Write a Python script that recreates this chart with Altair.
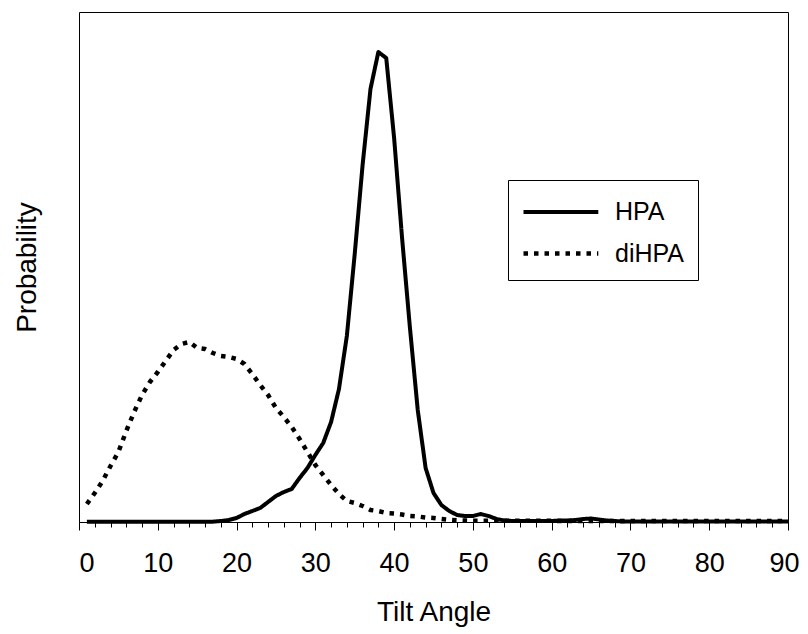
import altair as alt
import pandas as pd

angles = list(range(1, 91))

hpa = [0.3] * 17 + [
    1, 2, 4, 8, 11, 14, 20, 26, 30, 33,          # 18-27
    44, 54, 67, 79, 100, 133, 186, 268, 357, 433,  # 28-37
    470, 464, 384, 285, 195, 112, 54, 29, 17, 11,  # 38-47
    7, 6, 6, 8, 6, 3, 1.5, 1, 1, 1,                # 48-57
    1, 1, 1, 1.5, 1.5, 2, 3, 3.5, 2.5, 1.5,        # 58-67
    1] + [0.5] * 22                                # 68-90

dihpa = [
    18, 29, 41, 56, 70, 91, 110, 127, 140, 150,    # 1-10
    161, 172, 178, 180, 174, 173, 169, 166, 165, 163,  # 11-20
    158, 148, 137, 127, 114, 105, 95, 83, 70, 57,  # 21-30
    47, 37, 28, 21, 19, 16, 12, 11, 9, 8.5,        # 31-40
    7.5, 6, 5.5, 4.5, 4, 3, 2.2, 1.8, 1.5] + [1.3] * 11 + [1.0] * 30

series_names = ["HPA", "diHPA"]

df = pd.DataFrame({
    "angle": angles + angles,
    "prob": hpa + dihpa,
    "series": [series_names[0]] * len(angles) + [series_names[1]] * len(angles),
})

FONT = "Liberation Sans"

x_ticks = list(range(0, 91, 2))

chart = alt.Chart(df).mark_line(strokeJoin="round", color="black").encode(
    x=alt.X("angle:Q",
            scale=alt.Scale(domain=[0, 90], nice=False, zero=True),
            axis=alt.Axis(title="Tilt Angle", values=x_ticks,
                          labelExpr="datum.value % 10 === 0 ? datum.label : ''",
                          labelOverlap=False, labelFlush=False,
                          labelAlign={"condition": {"test": "datum.value === 0", "value": "left"}, "value": "center"},
                          labelOffset={"condition": {"test": "datum.value === 90", "value": -4}, "value": 0},
                          tickSize={"condition": {"test": "datum.value % 10 === 0", "value": 8}, "value": 5},
                          grid=False, domainColor="black", tickColor="black",
                          labelColor="black", titleColor="black",
                          labelFont=FONT, titleFont=FONT,
                          labelFontSize=27, titleFontSize=28, titleFontWeight="normal",
                          labelPadding=20, titlePadding=22)),
    y=alt.Y("prob:Q",
            scale=alt.Scale(domain=[0, 510], nice=False),
            axis=alt.Axis(title="Probability", labels=False, ticks=False, domain=False, grid=False,
                          titleFont=FONT, titleFontSize=28, titleFontWeight="normal",
                          titleColor="black", titlePadding=38)),
    strokeDash=alt.StrokeDash("series:N",
                              scale=alt.Scale(domain=series_names, range=[[1, 0], [4.5, 6]]),
                              legend=alt.Legend(title=None, orient="none", legendX=429, legendY=168,
                                                symbolType="M-1,0H3.4", symbolSize=1156,
                                                symbolStrokeColor="black", symbolFillColor="transparent",
                                                labelFont=FONT, labelFontSize=25, labelColor="black",
                                                labelOffset=55, padding=13, rowPadding=9,
                                                strokeColor="black", fillColor="white")),
    strokeWidth=alt.StrokeWidth("series:N",
                                scale=alt.Scale(domain=series_names, range=[4, 4.5])),
).properties(
    width=709, height=510,
    autosize=alt.AutoSizeParams(type="none"),
    padding={"left": 71, "top": 4, "right": 12, "bottom": 110},
).configure_view(
    stroke="black", strokeWidth=1
)

chart.save("out.html", embed_options={"renderer": "svg", "actions": False})
